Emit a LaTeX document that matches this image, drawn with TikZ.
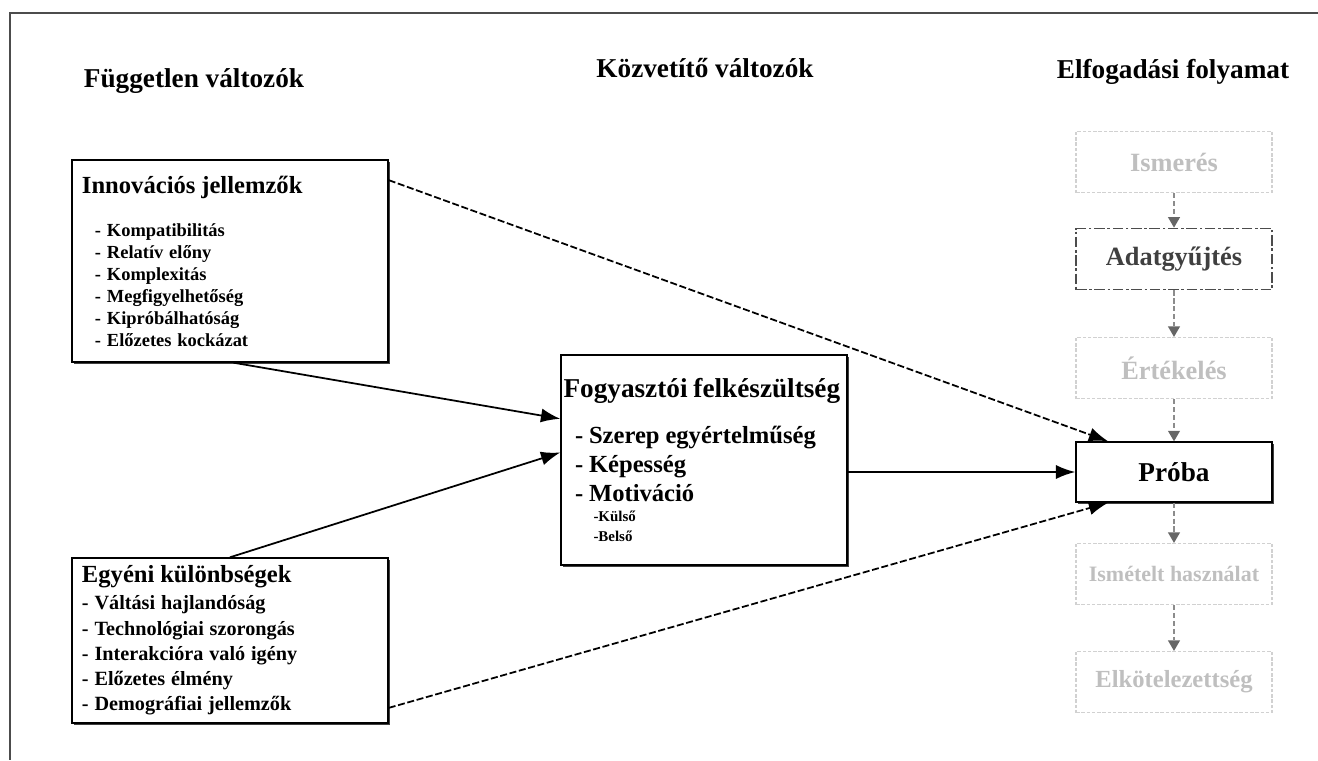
\documentclass[tikz,border=0pt]{standalone}
\usepackage{fontspec}
\setmainfont{Liberation Serif}
\usetikzlibrary{arrows.meta,shadows}
\setlength\parindent{0pt}
\tikzset{
  cim/.style={font=\fontsize{15.5}{18}\selectfont\bfseries},
  valtozo/.style={draw=black, line width=0.8pt, fill=white, inner sep=0pt,
    drop shadow={shadow xshift=0.9pt, shadow yshift=-0.9pt, fill=black!75, opacity=1}},
  lepes/.style={draw=black!18, line width=0.7pt, dash pattern=on 2pt off 1pt,
    text=black!25, minimum width=39.2mm, minimum height=12.2mm, font=\bfseries},
  lepesnyil/.style={draw=black!45, line width=0.8pt, dash pattern=on 3pt off 1.5pt,
    -{Triangle[length=6pt,width=7pt,fill=black!60,line width=0pt]}},
  hatas/.style={line width=1pt, -{Latex[length=11pt,width=8pt]}},
  szaggatott/.style={line width=1pt, dash pattern=on 4pt off 1.5pt, -{Latex[length=11pt,width=8pt]}}
}
\begin{document}
\begin{tikzpicture}[x=0.2mm, y=-0.2mm]
        \useasboundingbox (0,0) rectangle (1318,760);
        %\draw [help lines, step=50] (0,0) grid (1318,760);
        \draw [line width=1.2pt, black!70] (1318,13) -- (10,13) -- (10,760);

        % oszlopcimek
        \node [cim] (fugg) at (194,81) {Független változók};
        \node [cim] (kozv) at (705,68) {Közvetítő változók};
        \node [cim] (elfog) at (1173,72) {Elfogadási folyamat};

        % fuggetlen valtozok
        \node [valtozo, minimum width=63.2mm, minimum height=40.4mm, text width=59.2mm] (innov) at (230,261) {%
          {\fontsize{14}{16}\selectfont\bfseries Innovációs jellemzők\par}
          \vspace{12pt}
          {\fontsize{10.5}{12.5}\selectfont\bfseries
          \hspace*{2.6mm}- Kompatibilitás\par
          \hspace*{2.6mm}- Relatív előny\par
          \hspace*{2.6mm}- Komplexitás\par
          \hspace*{2.6mm}- Megfigyelhetőség\par
          \hspace*{2.6mm}- Kipróbálhatóság\par
          \hspace*{2.6mm}- Előzetes kockázat\par}
          \vspace{-3.5pt}};
        \node [valtozo, minimum width=63.2mm, minimum height=33mm, text width=59.2mm] (egyeni) at (230,640.5) {%
          {\fontsize{14}{16}\selectfont\bfseries Egyéni különbségek\par}
          \vspace{1pt}
          {\fontsize{11.5}{14.4}\selectfont\bfseries
          - Váltási hajlandóság\par
          - Technológiai szorongás\par
          - Interakcióra való igény\par
          - Előzetes élmény\par
          - Demográfiai jellemzők\par}
          \vspace{-7pt}};

        % kozvetito valtozo
        \node [valtozo, minimum width=57.2mm, minimum height=42mm, text width=56.2mm] (fogy) at (704,460) {%
          {\fontsize{15.5}{17}\selectfont\bfseries Fogyasztói felkészültség\par}
          \vspace{10pt}
          {\fontsize{14}{16.5}\selectfont\bfseries
          \hspace*{2.3mm}- Szerep egyértelműség\par
          \hspace*{2.3mm}- Képesség\par
          \hspace*{2.3mm}- Motiváció\par}
          {\fontsize{8.5}{11.4}\selectfont\bfseries
          \hspace*{6mm}-Külső\par
          \hspace*{6mm}-Belső\par}};

        % elfogadasi folyamat
        \node [lepes, font=\fontsize{15}{17}\selectfont\bfseries] (ismeres) at (1174,162) {Ismerés};
        \node [lepes, draw=black!70, text=black!75, line width=1pt, dash pattern=on 6pt off 1.5pt on 1.5pt off 1.5pt,
               font=\fontsize{15}{17}\selectfont\bfseries] (adat) at (1174,259) {Adatgyűjtés};
        \node [lepes, font=\fontsize{15}{17}\selectfont\bfseries] (ertek) at (1174,368) {Értékelés};
        \node [valtozo, minimum width=39.2mm, minimum height=12mm, font=\fontsize{15.5}{17}\selectfont\bfseries] (proba) at (1174,472) {Próba};
        \node [lepes, font=\fontsize{12.5}{14}\selectfont\bfseries] (ismetelt) at (1174,574) {Ismételt használat};
        \node [lepes, font=\fontsize{14}{16}\selectfont\bfseries] (elkot) at (1174,682) {Elkötelezettség};

        \draw [lepesnyil] (ismeres) -- (adat);
        \draw [lepesnyil] (adat) -- (ertek);
        \draw [lepesnyil] (ertek) -- (proba);
        \draw [lepesnyil] (proba) -- (ismetelt);
        \draw [lepesnyil] (ismetelt) -- (elkot);

        % hatasok
        \draw [hatas] (innov.-88) -- (fogy.164);
        \draw [hatas] (egyeni.north) -- (fogy.177);
        \draw [hatas] (proba.west -| fogy.east) -- (proba.west);
        \draw [szaggatott] (innov.27) -- (proba.155);
        \draw [szaggatott] (egyeni.-23) -- (proba.205);
    \end{tikzpicture}
\end{document}
